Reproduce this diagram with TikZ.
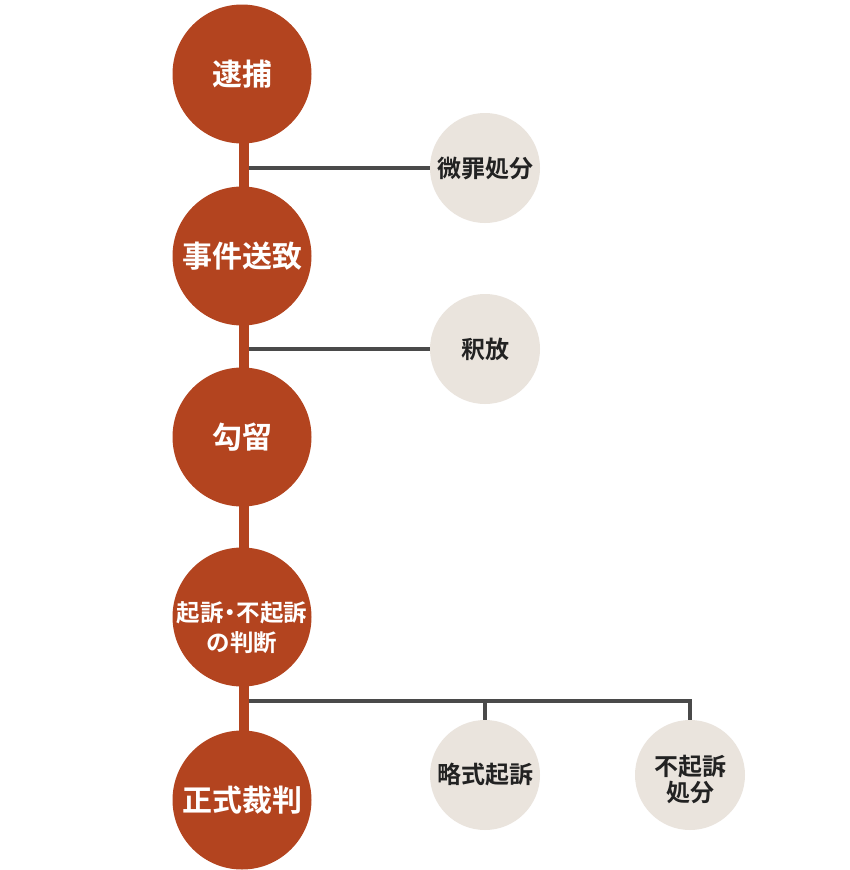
\documentclass[tikz,border=0pt]{standalone}
\usepackage{fontspec}
\usepackage{xcolor}
\usepackage{tikz}
\newfontfamily\cjk{Noto Sans CJK JP Bold}
\definecolor{bg}{HTML}{FFFFFF}
\definecolor{rust}{HTML}{B3441F}
\definecolor{sand}{HTML}{EAE4DD}
\definecolor{wire}{HTML}{4A4A4A}
\definecolor{ink}{HTML}{222222}
\tikzset{
  mainstep/.style={circle, fill=rust, draw=none, minimum size=139pt, inner sep=0pt,
    text=white, align=center, font=\cjk\fontsize{30}{34}\selectfont},
  substep/.style={circle, fill=sand, draw=none, minimum size=110pt, inner sep=0pt,
    text=ink, align=center, font=\cjk\fontsize{24}{26}\selectfont},
  steptext/.style={align=center, inner sep=0pt},
  spine/.style={draw=rust, line width=10.5pt},
  link/.style={draw=wire, line width=3.5pt}
}
\begin{document}
\begin{tikzpicture}[x=1pt, y=-1pt]
  \useasboundingbox[fill=bg] (0,0) rectangle (850,870);

  % spine
  \coordinate (s0) at (244,74);
  \coordinate (s1) at (244,800);
  \draw[spine] (s0) -- (s1);

  % main steps
  \node[mainstep] (arrest)  at (242,74)  {逮捕};
  \node[mainstep] (refer)   at (242,256) {事件送致};
  \node[mainstep] (detain)  at (242,437) {勾留};
  \node[mainstep] (decide)  at (242,617) {};
  \node[steptext, text=white, font=\cjk\fontsize{23.5}{30}\selectfont] (decidetxt)
    at ([yshift=-11pt]decide.center) {起訴\kern-0.22em・\kern-0.22em不起訴\\の判断};
  \node[mainstep] (trial)   at (242,800) {正式裁判};

  % side outcomes
  \node[substep] (minor)   at (485,168) {微罪処分};
  \node[substep] (release) at (485,349) {釈放};
  \node[substep] (summary) at (485,775) {略式起訴};
  \node[substep] (nopros)  at (690,775) {};
  \node[steptext, text=ink, font=\cjk\fontsize{24}{26}\selectfont] (noprostxt)
    at ([yshift=-4pt]nopros.center) {不起訴\\処分};

  \coordinate (j1) at (249,168);
  \coordinate (j2) at (249,349);
  \coordinate (j3) at (249,701);
  \draw[link] (j1) -- (minor);
  \draw[link] (j2) -- (release);
  \draw[link] (j3) -| (summary.north);
  \draw[link] (j3) -| (nopros.north);
\end{tikzpicture}
\end{document}
